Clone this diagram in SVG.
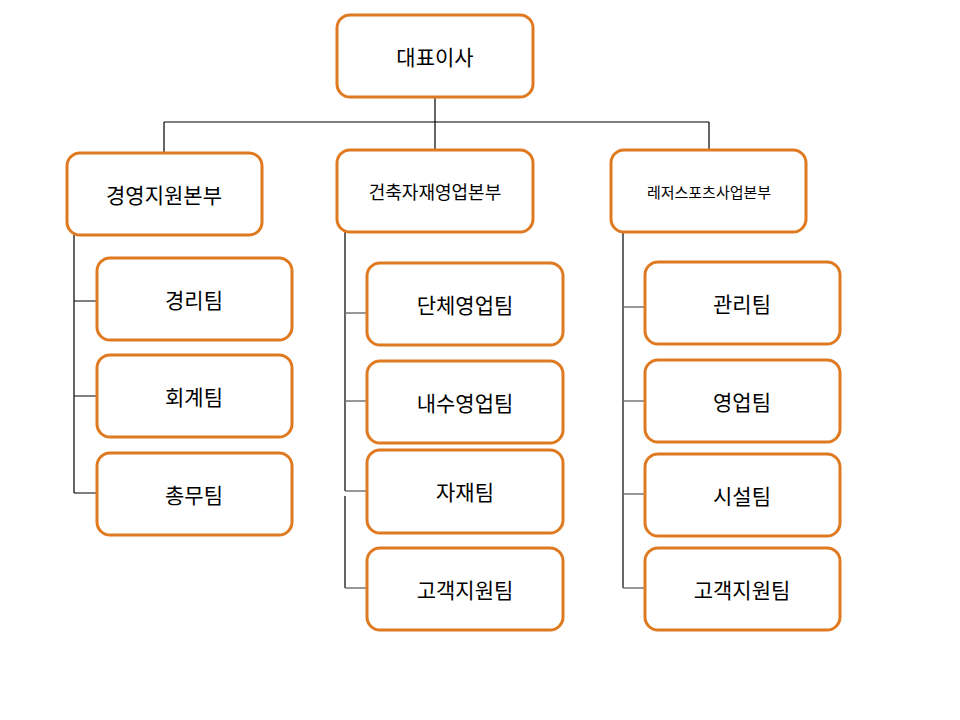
<svg xmlns="http://www.w3.org/2000/svg" width="960" height="720" viewBox="0 0 960 720">
<style>
.b{fill:#fff;stroke:#E07A21;stroke-width:3}
.t{font-family:"Noto Sans CJK KR","Noto Sans",sans-serif;text-anchor:middle;dominant-baseline:central;fill:#000;font-size:21px}
.l{stroke:#000;stroke-width:1.2;fill:none}
.g{stroke:#777;stroke-width:1.5;fill:none}
</style>
<rect width="960" height="720" fill="#fff"/>
<g id="connectors">
<path class="l" d="M435 97V122M164 122H709M164 122V153M435 122V150M709 122V150"/>
<path class="l" d="M74 235V493M74 301H97M74 396H97M74 493H97"/>
<path class="l" d="M345 232V491M345 496V588"/>
<path class="g" d="M345 313H367M345 401H367M345 491H367M345 588H367"/>
<path class="l" d="M623 232V588"/>
<path class="g" d="M623 307H645M623 401H645M623 494H645M623 588H645"/>
</g>
<g id="ceo"><rect class="b" x="337" y="15" width="196" height="82" rx="13"/><text class="t" x="435" y="56" font-size="22">대표이사</text></g>
<g id="d1"><rect class="b" x="67" y="153" width="195" height="82" rx="13"/><text class="t" x="164" y="194" font-size="22">경영지원본부</text></g>
<g id="d2"><rect class="b" x="337" y="150" width="196" height="82" rx="13"/><text class="t" x="435" y="191" style="font-size:18px">건축자재영업본부</text></g>
<g id="d3"><rect class="b" x="611" y="150" width="195" height="82" rx="13"/><text class="t" x="709" y="191" style="font-size:15px">레저스포츠사업본부</text></g>
<g id="a1"><rect class="b" x="97" y="258" width="195" height="82" rx="13"/><text class="t" x="194" y="299">경리팀</text></g>
<g id="a2"><rect class="b" x="97" y="355" width="195" height="82" rx="13"/><text class="t" x="194" y="396">회계팀</text></g>
<g id="a3"><rect class="b" x="97" y="453" width="195" height="82" rx="13"/><text class="t" x="194" y="494">총무팀</text></g>
<g id="b1"><rect class="b" x="367" y="263" width="196" height="82" rx="13"/><text class="t" x="465" y="304">단체영업팀</text></g>
<g id="b2"><rect class="b" x="367" y="361" width="196" height="82" rx="13"/><text class="t" x="465" y="402">내수영업팀</text></g>
<g id="b3"><rect class="b" x="367" y="450" width="196" height="83" rx="13"/><text class="t" x="465" y="491">자재팀</text></g>
<g id="b4"><rect class="b" x="367" y="548" width="196" height="82" rx="13"/><text class="t" x="465" y="589">고객지원팀</text></g>
<g id="c1"><rect class="b" x="645" y="262" width="195" height="82" rx="13"/><text class="t" x="742" y="303">관리팀</text></g>
<g id="c2"><rect class="b" x="645" y="360" width="195" height="82" rx="13"/><text class="t" x="742" y="401">영업팀</text></g>
<g id="c3"><rect class="b" x="645" y="454" width="195" height="82" rx="13"/><text class="t" x="742" y="495">시설팀</text></g>
<g id="c4"><rect class="b" x="645" y="548" width="195" height="82" rx="13"/><text class="t" x="742" y="589">고객지원팀</text></g>
</svg>
